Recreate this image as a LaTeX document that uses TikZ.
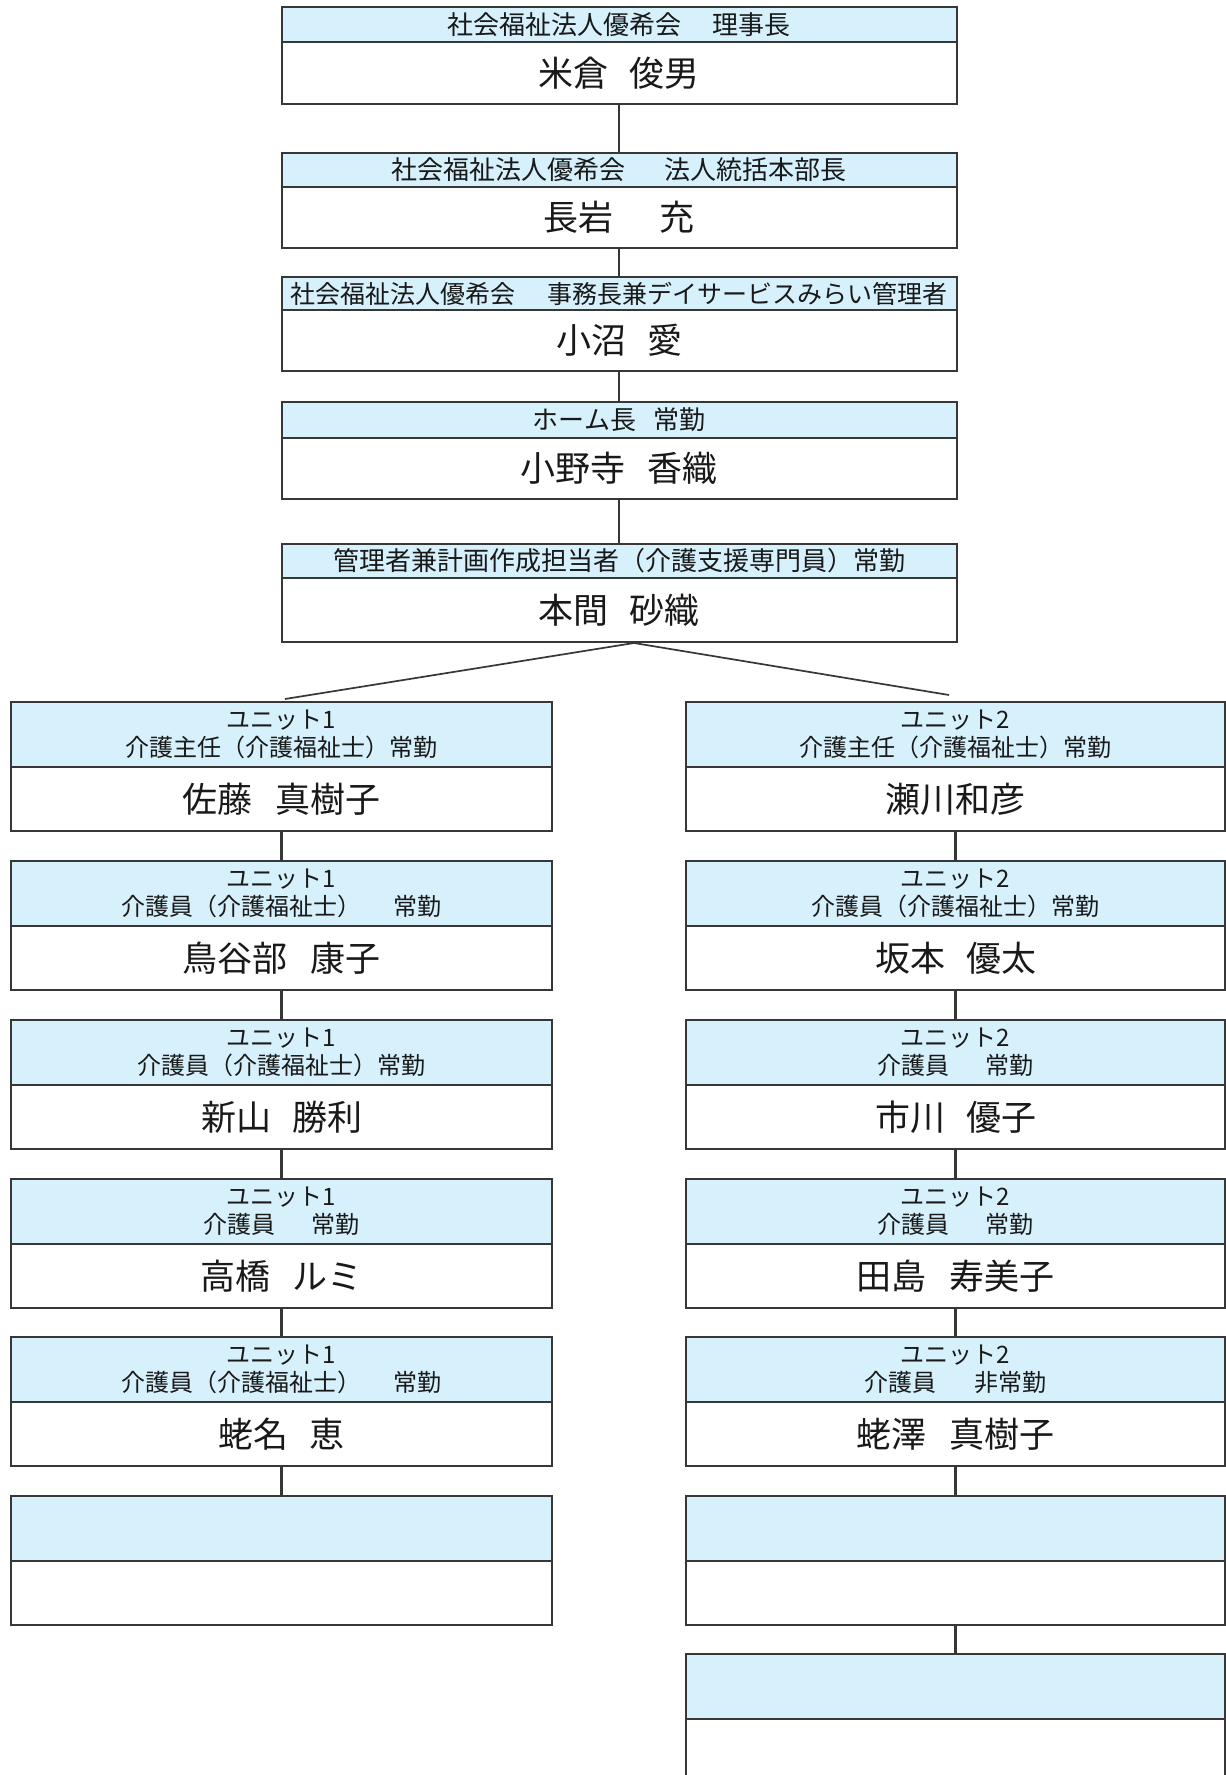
\documentclass[tikz,border=0pt]{standalone}
\usepackage{fontspec}
\setmainfont{Noto Sans CJK JP}
\definecolor{hdrfill}{RGB}{214,241,251}
\definecolor{linec}{RGB}{55,55,55}
\definecolor{txt}{RGB}{25,25,25}
\newcommand\zs[1]{\hspace{#1em}}
\newcommand\orgbox[9]{%
  \node[hdr,#7hdr,minimum width=#4pt,minimum height=#5pt] (#1h) at (#2,#3) {#8};
  \node[nm,#7name,minimum width=#4pt,minimum height=#6pt] (#1n) at (#1h.south) {#9};}
\begin{document}
\begin{tikzpicture}[x=1pt,y=-1pt,
  hdr/.style={draw=linec,line width=2pt,fill=hdrfill,inner sep=0pt,outer sep=0pt,anchor=north,align=center,text=txt},
  nm/.style={draw=linec,line width=2pt,fill=white,inner sep=0pt,outer sep=0pt,anchor=north,align=center,text=txt},
  tophdr/.style={font=\fontsize{26pt}{30pt}\selectfont},
  topname/.style={font=\fontsize{35pt}{40pt}\selectfont},
  colhdr/.style={font=\fontsize{24pt}{28pt}\selectfont},
  colname/.style={font=\fontsize{35pt}{40pt}\selectfont},
  conn/.style={draw=linec,line width=1.7pt},
  colconn/.style={draw=linec,line width=2.2pt}]
\useasboundingbox (0,0) rectangle (1226,1775);
\clip (0,0) rectangle (1226,1775);
\fill[white] (0,0) rectangle (1226,1775);

% top chain
\orgbox{t1}{619}{7}{675}{35}{62}{top}{社会福祉法人優希会\zs{1.2}理事長}{米倉\zs{0.6}俊男}
\orgbox{t2}{619}{153}{675}{34}{61}{top}{社会福祉法人優希会\zs{1.5}法人統括本部長}{長岩\zs{1.3}充}
\orgbox{t3}{619}{277}{675}{33}{61}{top}{\fontsize{25pt}{30pt}\selectfont 社会福祉法人優希会\zs{1.3}事務長兼デイサービスみらい管理者}{小沼\zs{0.6}愛}
\orgbox{t4}{619}{402}{675}{36}{61}{top}{ホーム長\zs{0.65}常勤}{小野寺\zs{0.65}香織}
\orgbox{t5}{619}{544}{675}{34}{64}{top}{管理者兼計画作成担当者（介護支援専門員）常勤}{本間\zs{0.6}砂織}

% left column
\orgbox{a1}{281.5}{702}{541}{65}{64}{col}{ユニット1\\介護主任（介護福祉士）常勤}{佐藤\zs{0.65}真樹子}
\orgbox{a2}{281.5}{861}{541}{65}{64}{col}{ユニット1\\介護員（介護福祉士）\zs{1.3}常勤}{鳥谷部\zs{0.65}康子}
\orgbox{a3}{281.5}{1020}{541}{65}{64}{col}{ユニット1\\介護員（介護福祉士）常勤}{新山\zs{0.6}勝利}
\orgbox{a4}{281.5}{1179}{541}{65}{64}{col}{ユニット1\\介護員\zs{1.5}常勤}{高橋\zs{0.65}ルミ}
\orgbox{a5}{281.5}{1337}{541}{65}{64}{col}{ユニット1\\介護員（介護福祉士）\zs{1.3}常勤}{蛯名\zs{0.6}恵}
\orgbox{a6}{281.5}{1496}{541}{65}{64}{col}{}{}

% right column
\orgbox{b1}{955.5}{702}{539}{65}{64}{col}{ユニット2\\介護主任（介護福祉士）常勤}{瀬川和彦}
\orgbox{b2}{955.5}{861}{539}{65}{64}{col}{ユニット2\\介護員（介護福祉士）常勤}{坂本\zs{0.6}優太}
\orgbox{b3}{955.5}{1020}{539}{65}{64}{col}{ユニット2\\介護員\zs{1.5}常勤}{市川\zs{0.6}優子}
\orgbox{b4}{955.5}{1179}{539}{65}{64}{col}{ユニット2\\介護員\zs{1.5}常勤}{田島\zs{0.65}寿美子}
\orgbox{b5}{955.5}{1337}{539}{65}{64}{col}{ユニット2\\介護員\zs{1.6}非常勤}{蛯澤\zs{0.65}真樹子}
\orgbox{b6}{955.5}{1496}{539}{65}{64}{col}{}{}
\orgbox{b7}{955.5}{1654}{539}{65}{64}{col}{}{}

% connectors
\draw[conn] (t1n.south) -- (t2h.north);
\draw[conn] (t2n.south) -- (t3h.north);
\draw[conn] (t3n.south) -- (t4h.north);
\draw[conn] (t4n.south) -- (t5h.north);
\coordinate (apex) at (634,643);
\coordinate (lend) at (285,699);
\coordinate (rend) at (949,695);
\draw[conn] (apex) -- (lend);
\draw[conn] (apex) -- (rend);
\foreach \i/\j in {1/2,2/3,3/4,4/5,5/6}{
  \draw[colconn] (a\i n.south) -- (a\j h.north);
}
\foreach \i/\j in {1/2,2/3,3/4,4/5,5/6,6/7}{
  \draw[colconn] (b\i n.south) -- (b\j h.north);
}
\end{tikzpicture}
\end{document}
